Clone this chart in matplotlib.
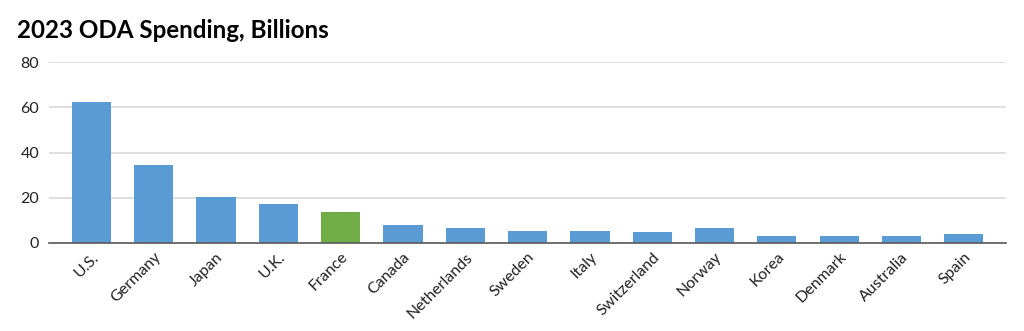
import matplotlib
matplotlib.use("Agg")
import matplotlib.pyplot as plt

countries = ["U.S.", "Germany", "Japan", "U.K.", "France", "Canada", "Netherlands",
             "Sweden", "Italy", "Switzerland", "Norway", "Korea", "Denmark",
             "Australia", "Spain"]
spending = [62.5, 34.6, 20.4, 17.4, 13.7, 7.8, 6.8, 5.5, 5.5, 4.9, 6.5, 3.1, 3.1, 3.1, 3.9]
highlight = "France"
y_ticks = [0, 20, 40, 60, 80]

plt.rcParams['font.family'] = ['Lato', 'DejaVu Sans']

fig = plt.figure(figsize=(10.24, 3.31), dpi=100)
ax = fig.add_axes([49/1024, 88/331, 957/1024, 181/331])

colors = ["#70AD47" if c == highlight else "#5B9BD5" for c in countries]
x = list(range(len(countries)))
ax.bar(x, spending, width=0.63, color=colors, zorder=3)

ax.set_ylim(0, 80)
ax.set_xlim(-0.679, 14.677)
ax.set_yticks(y_ticks)
ax.set_yticklabels([str(v) for v in y_ticks], fontsize=11.5, color="#222222")
ax.set_xticks(x)
ax.set_xticklabels(countries, rotation=45, ha='right', va='top',
                   rotation_mode='anchor', fontsize=11.5, color="#222222")
ax.tick_params(axis='both', length=0)
ax.tick_params(axis='y', pad=7)
ax.tick_params(axis='x', pad=5)

ax.yaxis.grid(True, color="#D9D9D9", linewidth=1.2, zorder=0)
for s in ["top", "right", "left"]:
    ax.spines[s].set_visible(False)
ax.spines["bottom"].set_color("#595959")
ax.spines["bottom"].set_linewidth(1.2)
ax.spines["bottom"].set_zorder(4)

fig.text(17/1024, 1 - 30/331, "2023 ODA Spending, Billions", fontsize=17.4,
         fontweight='bold', va='center', ha='left', color="#000000")

fig.savefig("out.png", dpi=100, facecolor="white")
